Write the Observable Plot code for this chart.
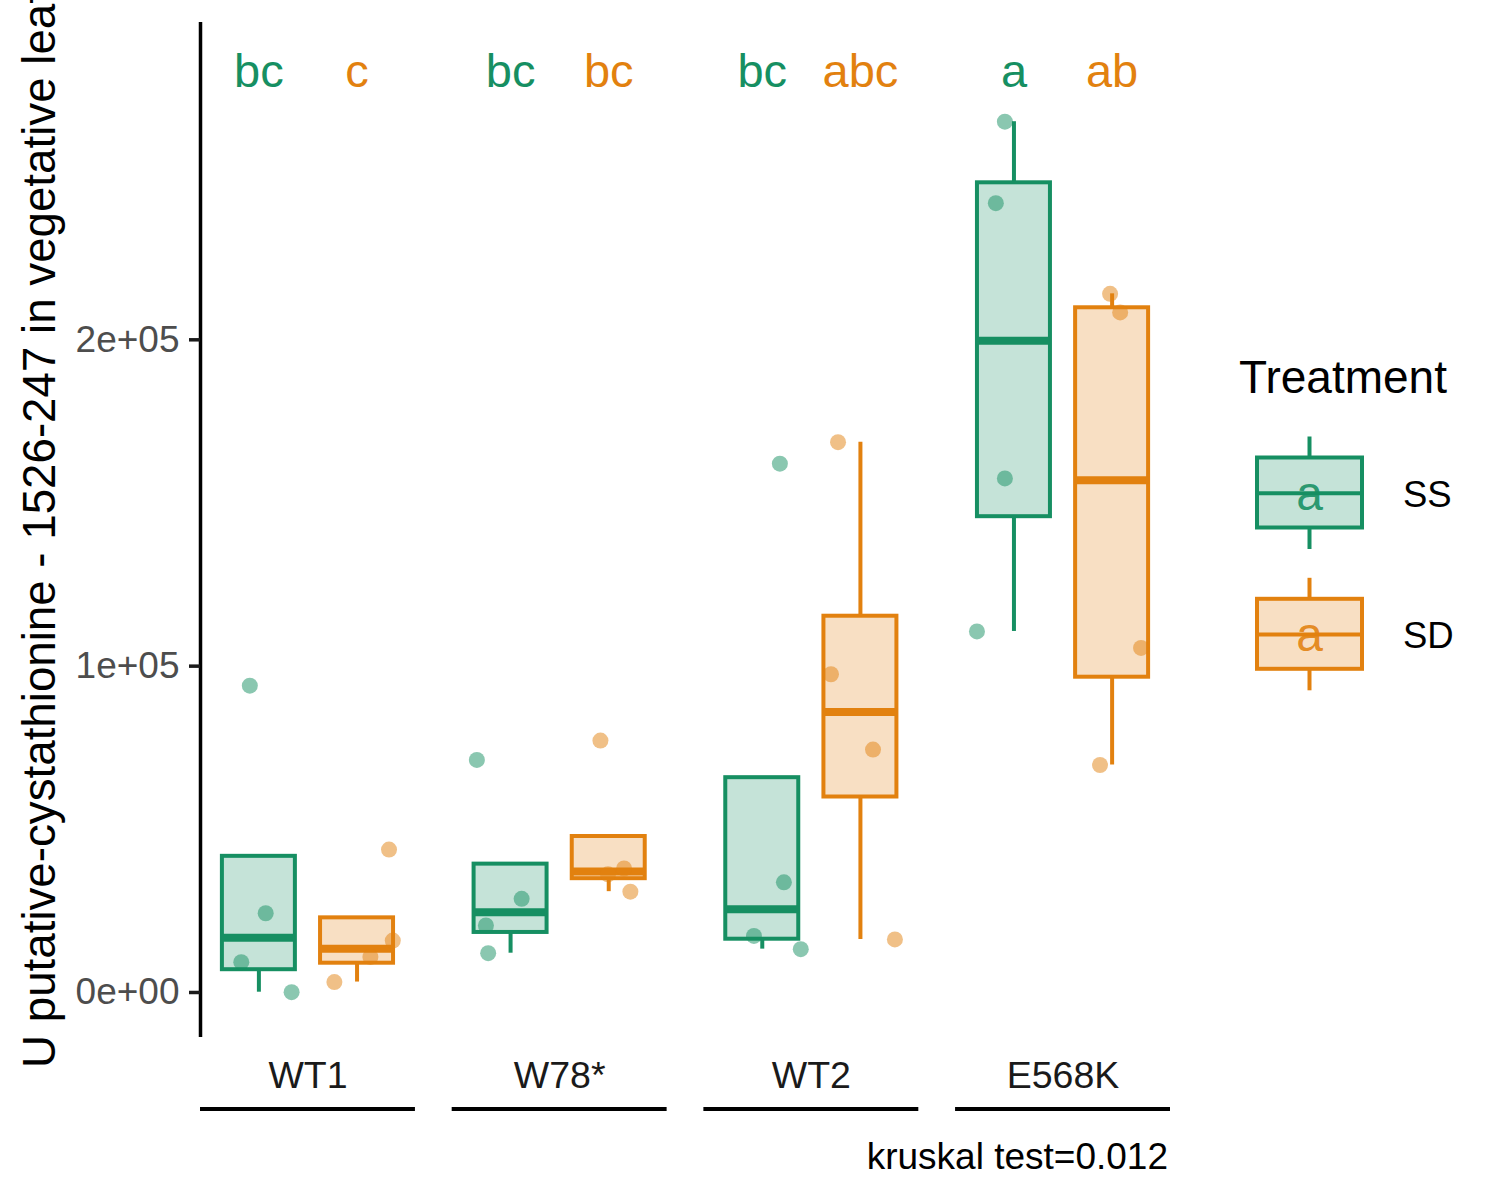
<!DOCTYPE html>
<html>
<head>
<meta charset="utf-8">
<script src="https://cdn.jsdelivr.net/npm/d3@7"></script>
<script src="https://cdn.jsdelivr.net/npm/@observablehq/plot@0.6"></script>
<style>
  body { margin: 0; background: #fff; }
  #chart { width: 1500px; height: 1200px; }
  #chart svg { display: block; }
</style>
</head>
<body>
<div id="chart"></div>
<script>
// ---------------- data ----------------
const groups = ["WT1", "W78*", "WT2", "E568K"];
const treatments = ["SS", "SD"];
// individual measurements per genotype (order matches jitter arrays)
const ssValues = [
  [94030, 24290, 9280, 90],
  [71270, 28690, 20520, 12040],
  [162050, 33750, 17340, 13290],
  [266830, 241870, 157520, 110630]
];
const sdValues = [
  [43800, 15900, 10900, 3200],
  [77200, 38000, 36200, 30900],
  [168640, 97520, 74450, 16260],
  [214090, 208390, 105580, 69710]
];
// horizontal jitter of each point (fraction of one genotype step)
const ssJitter = [
  [-0.036, 0.027, -0.070, 0.130],
  [-0.134, 0.044, -0.098, -0.089],
  [0.070, 0.086, -0.033, 0.153],
  [-0.036, -0.072, -0.036, -0.147]
];
const sdJitter = [
  [0.127, 0.142, 0.053, -0.090],
  [-0.033, 0.061, -0.003, 0.086],
  [-0.089, -0.117, 0.050, 0.137],
  [-0.008, 0.032, 0.115, -0.048]
];
const ssLetters = ["bc", "bc", "bc", "a"];
const sdLetters = ["c", "bc", "abc", "ab"];
const yTicks = [0, 100000, 200000];
const yTitle = "U putative-cystathionine - 1526-247 in vegetative leaf";
const legendTitle = "Treatment";
const caption = "kruskal test=0.012";

// ---------------- styling ----------------
const palette = ["#168F62", "#E2810F"];
const font = "'Liberation Sans', Arial, Helvetica, sans-serif";
const xDomain = [0.573, 4.427];
const yDomain = [-13790, 297230];
const dodge = 0.195, halfBox = 0.145, bracketHalf = 0.427;

// ---------------- derived tables ----------------
const points = [];
const boxes = [];
groups.forEach((g, i) => {
  treatments.forEach((t, k) => {
    const vals = (t === "SS" ? ssValues : sdValues)[i];
    const jit = (t === "SS" ? ssJitter : sdJitter)[i];
    const cx = i + 1 + (k === 0 ? -dodge : dodge);
    vals.forEach((v, j) => points.push({group: g, treatment: t, x: cx + jit[j], value: v}));
    const s = vals.slice().sort(d3.ascending);
    const q1 = d3.quantile(s, 0.25), med = d3.quantile(s, 0.5), q3 = d3.quantile(s, 0.75);
    const iqr = q3 - q1;
    const lo = d3.min(s.filter(v => v >= q1 - 1.5 * iqr));
    const hi = d3.max(s.filter(v => v <= q3 + 1.5 * iqr));
    boxes.push({
      group: g, treatment: t, cx, x1: cx - halfBox, x2: cx + halfBox,
      q1, med, q3, lo: Math.min(lo, q1), hi: Math.max(hi, q3),
      letter: (t === "SS" ? ssLetters : sdLetters)[i]
    });
  });
});

const sci = v => {
  if (v === 0) return "0e+00";
  const e = Math.floor(Math.log10(Math.abs(v)));
  const m = Math.round(v / 10 ** e);
  return `${m}e${e < 0 ? "-" : "+"}${String(Math.abs(e)).padStart(2, "0")}`;
};

const plot = Plot.plot({
  width: 1500,
  height: 1200,
  marginLeft: 200,
  marginRight: 330,
  marginTop: 22,
  marginBottom: 163,
  style: {fontFamily: font, background: "#fff"},
  x: {domain: xDomain, axis: null},
  y: {domain: yDomain, axis: null},
  color: {domain: treatments, range: palette},
  marks: [
    Plot.ruleX(boxes, {x: "cx", y1: "lo", y2: "q1", stroke: "treatment", strokeWidth: 4}),
    Plot.ruleX(boxes, {x: "cx", y1: "q3", y2: "hi", stroke: "treatment", strokeWidth: 4}),
    Plot.rect(boxes, {x1: "x1", x2: "x2", y1: "q1", y2: "q3", fill: "treatment", fillOpacity: 0.25, stroke: "treatment", strokeWidth: 4}),
    Plot.ruleY(boxes, {x1: "x1", x2: "x2", y: "med", stroke: "treatment", strokeWidth: 8}),
    Plot.dot(points, {x: "x", y: "value", r: 8, fill: "treatment", fillOpacity: 0.5, stroke: null}),
    Plot.text(boxes, {x: "cx", text: "letter", frameAnchor: "top", lineAnchor: "middle", dy: 49.5, fontSize: 47, fill: "treatment"}),
    Plot.ruleX([xDomain[0]], {stroke: "#000", strokeWidth: 3.5}),
    Plot.axisY({ticks: yTicks, tickFormat: sci, tickSize: 11, tickPadding: 10, strokeWidth: 3.5, stroke: "#1a1a1a", color: "#4d4d4d", fontSize: 37, label: null}),
    Plot.axisX({ticks: [1, 2, 3, 4], tickFormat: d => groups[d - 1], tickSize: 0, tickPadding: 24, fontSize: 37.5, color: "#1a1a1a", label: null})
  ]
});

document.getElementById("chart").appendChild(plot);

// ---------------- extra annotations ----------------
const svg = d3.select(plot);
const xs = plot.scale("x");

// group brackets below the axis labels
svg.append("g").selectAll("line").data(groups).join("line")
  .attr("x1", (d, i) => xs.apply(i + 1 - bracketHalf))
  .attr("x2", (d, i) => xs.apply(i + 1 + bracketHalf))
  .attr("y1", 1109).attr("y2", 1109)
  .attr("stroke", "#000").attr("stroke-width", 4);

// y title
svg.append("text")
  .attr("transform", "translate(55,529.5) rotate(-90)")
  .attr("text-anchor", "middle")
  .attr("font-family", font).attr("font-size", 45.7).attr("fill", "#000")
  .text(yTitle);

// caption
svg.append("text")
  .attr("x", 1168).attr("y", 1169)
  .attr("text-anchor", "end")
  .attr("font-family", font).attr("font-size", 37).attr("fill", "#000")
  .text(caption);

// legend
const lg = svg.append("g").attr("font-family", font).attr("text-anchor", "start");
lg.append("text").attr("x", 1239).attr("y", 393).attr("font-size", 46).attr("fill", "#000")
  .attr("text-anchor", "start").text(legendTitle);
treatments.forEach((t, k) => {
  const cy = 492.5 + k * 141.3;
  const col = palette[k];
  const g = lg.append("g");
  g.append("line").attr("x1", 1309.5).attr("x2", 1309.5).attr("y1", cy - 56).attr("y2", cy + 56.5)
    .attr("stroke", col).attr("stroke-width", 4);
  g.append("rect").attr("x", 1257).attr("y", cy - 35).attr("width", 105).attr("height", 70)
    .attr("fill", "#fff").attr("stroke", "none");
  g.append("rect").attr("x", 1257).attr("y", cy - 35).attr("width", 105).attr("height", 70)
    .attr("fill", col).attr("fill-opacity", 0.25).attr("stroke", col).attr("stroke-width", 4);
  g.append("line").attr("x1", 1257).attr("x2", 1362).attr("y1", cy + 0.8).attr("y2", cy + 0.8)
    .attr("stroke", col).attr("stroke-width", 4);
  g.append("text").attr("x", 1309.5).attr("y", cy + 17.5).attr("text-anchor", "middle")
    .attr("font-size", 48).attr("fill", col).attr("fill-opacity", 0.9).text("a");
  g.append("text").attr("x", 1403).attr("y", cy + 14.3).attr("text-anchor", "start")
    .attr("font-size", 36.5).attr("fill", "#000").text(t);
});
</script>
</body>
</html>
